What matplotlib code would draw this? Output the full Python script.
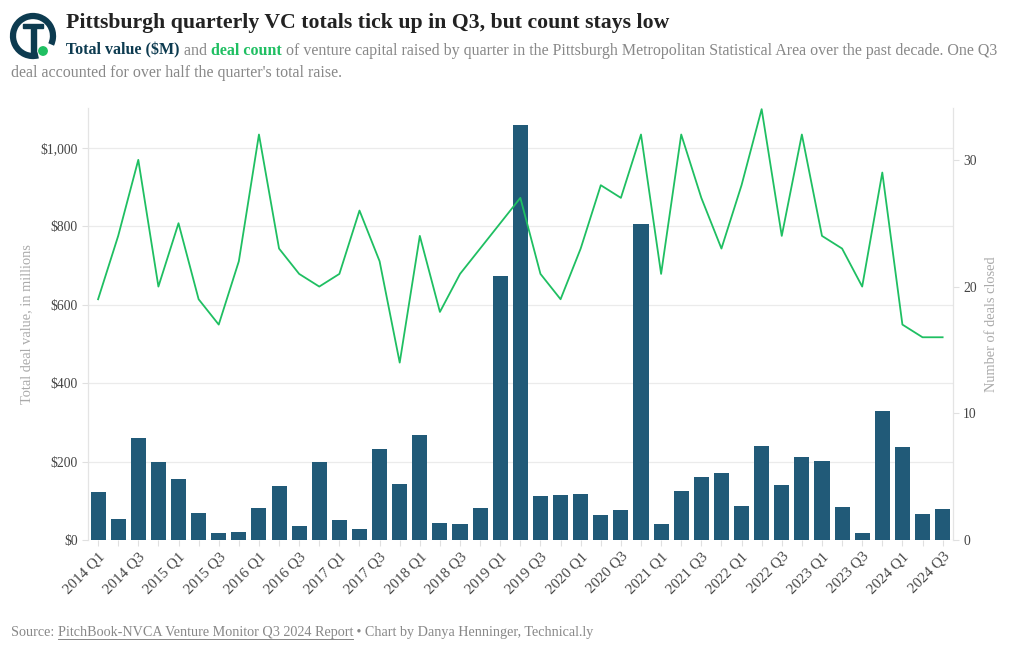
import matplotlib.pyplot as plt
import matplotlib.patches as mpatches
import numpy as np

# data
years = list(range(2014, 2025))
quarters = [f"{y} Q{q}" for y in years for q in range(1, 5)][:43]

deal_value = [122, 54, 259, 198,
              156, 68, 17, 20,
              82, 137, 35, 198,
              51, 28, 232, 143,
              269, 43, 40, 81,
              674, 1059, 112, 114,
              117, 65, 77, 807,
              41, 126, 161, 170,
              88, 241, 140, 211,
              202, 83, 18, 329,
              236, 66, 78]

deal_count = [19, 24, 30, 20,
              25, 19, 17, 22,
              32, 23, 21, 20,
              21, 26, 22, 14,
              24, 18, 21, 23,
              25, 27, 21, 19,
              23, 28, 27, 32,
              21, 32, 27, 23,
              28, 34, 24, 32,
              24, 23, 20, 29,
              17, 16, 16]

left_ticks = [0, 200, 400, 600, 800, 1000]
right_ticks = [0, 10, 20, 30]

BAR = "#215a78"
GREEN = "#1fbf62"
NAVY = "#0d3b50"
GREY = "#888888"
SERIF = "Liberation Serif"

plt.rcParams['font.family'] = SERIF

fig = plt.figure(figsize=(10.2, 6.5), dpi=100)
ax = fig.add_axes([0.0863, 0.1692, 0.8477, 0.6648])
ax2 = ax.twinx()

x = np.arange(len(quarters))
ax.bar(x, deal_value, width=0.75, color=BAR, zorder=2)
ax2.plot(x, deal_count, color=GREEN, lw=1.3, zorder=3)

ax.set_xlim(-0.5, 42.5)
ax.set_ylim(0, 1102)
ax2.set_ylim(0, 34.1)

# put the line above the bars
ax.set_zorder(1)
ax2.set_zorder(2)
ax.patch.set_visible(False)

ax.set_yticks(left_ticks)
ax.set_yticklabels([f"${v:,}" for v in left_ticks])
ax2.set_yticks(right_ticks)
ax.grid(axis='y', color="#ebebeb", lw=0.9, zorder=0)

ax.set_xticks(x)
ax.set_xticklabels([q if i % 2 == 0 else "" for i, q in enumerate(quarters)],
                   rotation=45, ha='right', rotation_mode='anchor')

for a in (ax, ax2):
    for s in ['top', 'bottom']:
        a.spines[s].set_visible(False)
    a.spines['left'].set_color("#e4e4e4")
    a.spines['right'].set_color("#e4e4e4")
    a.tick_params(colors="#e0e0e0", labelcolor="#444444", labelsize=9.8, length=4)
ax.tick_params(axis='x', labelsize=10.8, pad=3)
ax2.tick_params(axis='x', length=0)

ax.set_ylabel("Total deal value, in millions", color="#aaaaaa", fontsize=10.4)
ax2.set_ylabel("Number of deals closed", color="#aaaaaa", fontsize=10.4)
ax.yaxis.set_label_coords(-0.0636, 0.5)
ax2.yaxis.set_label_coords(1.037, 0.5)

# header
fig.text(0.065, 0.964, "Pittsburgh quarterly VC totals tick up in Q3, but count stays low",
         fontsize=15.7, fontweight='bold', color="#222222", va='center')
sub_y = 0.922
FS = 11.5
t1 = fig.text(0.065, sub_y, "Total value ($M)", fontsize=FS, fontweight='bold',
              color=NAVY, va='center')
fig.canvas.draw()
r = fig.canvas.get_renderer()
def next_x(t):
    bb = t.get_window_extent(r)
    return bb.x1 / fig.bbox.width
t2 = fig.text(next_x(t1), sub_y, " and ", fontsize=FS, color=GREY, va='center')
t3 = fig.text(next_x(t2), sub_y, "deal count", fontsize=FS, fontweight='bold',
              color=GREEN, va='center')
t4 = fig.text(next_x(t3), sub_y,
              " of venture capital raised by quarter in the Pittsburgh Metropolitan Statistical Area over the past decade. One Q3",
              fontsize=FS, color=GREY, va='center')
fig.text(0.011, 0.888, "deal accounted for over half the quarter's total raise.",
         fontsize=FS, color=GREY, va='center')

# logo
fig.patches.append(mpatches.Arc((33, 614), 40, 40, theta1=-25, theta2=285,
                                lw=4.5, color=NAVY, transform=None))
fig.patches.append(mpatches.Rectangle((23, 622), 20, 4.5, color=NAVY, transform=None))
fig.patches.append(mpatches.Rectangle((30.5, 596), 5, 27, color=NAVY, transform=None))
fig.patches.append(mpatches.Circle((43, 599), 4.2, color=GREEN, transform=None))

# source line
SF = 10.2
src = fig.text(0.011, 0.027, "Source: ", fontsize=SF, color=GREY, va='center')
fig.canvas.draw()
s2 = fig.text(next_x(src), 0.027, "PitchBook-NVCA Venture Monitor Q3 2024 Report",
              fontsize=SF, color=GREY, va='center')
fig.canvas.draw()
bb = s2.get_window_extent(r)
fig.add_artist(plt.Line2D([bb.x0 / 1020, bb.x1 / 1020], [0.017, 0.017], color=GREY, lw=0.7))
fig.text(next_x(s2), 0.027, " \u2022 Chart by Danya Henninger, Technical.ly",
         fontsize=SF, color=GREY, va='center')

fig.savefig("out.png", dpi=100)
